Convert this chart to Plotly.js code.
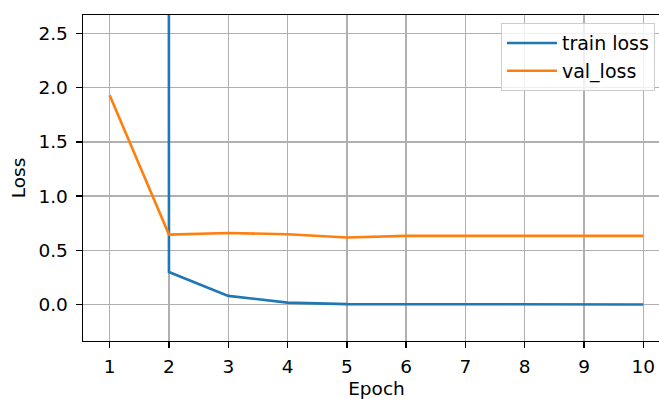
<!DOCTYPE html>
<html>
<head>
<meta charset="utf-8">
<script src="https://cdn.plot.ly/plotly-3.0.1.min.js"></script>
<style>
html,body{margin:0;padding:0;overflow:hidden;background:#fff;width:659px;height:399px;}
#chart{width:680px;height:399px;}
</style>
</head>
<body>
<div id="chart"></div>
<script>
const epochs = [1, 2, 3, 4, 5, 6, 7, 8, 9, 10];
const trainLoss = [1500.0, 0.30, 0.08, 0.018, 0.004, 0.002, 0.001, 0.001, 0.001, 0.001];
const valLoss = [1.93, 0.645, 0.66, 0.648, 0.618, 0.633, 0.633, 0.633, 0.633, 0.633];
const yTicks = [0.0, 0.5, 1.0, 1.5, 2.0, 2.5];
const yTickText = ["0.0", "0.5", "1.0", "1.5", "2.0", "2.5"];

const font = {family: "DejaVu Sans", size: 18.5, color: "#000"};
const legendFont = {family: "DejaVu Sans", size: 19, color: "#000"};

const data = [
  {x: epochs, y: trainLoss, mode: "lines", name: "train loss", legendgroup: "a",
   line: {color: "#1f77b4", width: 2.6}},
  {x: epochs, y: valLoss, mode: "lines", name: "val_loss", legendgroup: "b",
   line: {color: "#ff7f0e", width: 2.6}}
];

const axisCommon = {
  showgrid: true, gridcolor: "#b0b0b0", gridwidth: 1.4,
  showline: true, linecolor: "#000", linewidth: 1.4, mirror: true,
  ticks: "outside", ticklen: 6, tickwidth: 1.4, tickcolor: "#000",
  zeroline: false, tickfont: font
};

const layout = {
  width: 680, height: 399,
  margin: {l: 83, r: 10, t: 15, b: 58},
  paper_bgcolor: "#fff", plot_bgcolor: "#fff",
  font: font,
  showlegend: true,
  xaxis: Object.assign({}, axisCommon, {
    range: [0.55, 10.45], tickvals: epochs, ticktext: epochs.map(String),
    ticklabelstandoff: 2,
    title: {text: "Epoch", font: font, standoff: 15}
  }),
  yaxis: Object.assign({}, axisCommon, {
    range: [-0.336, 2.67], tickvals: yTicks, ticktext: yTickText,
    ticklabelstandoff: 4,
    title: {text: "Loss", font: font, standoff: 8}
  }),
  legend: {
    x: 0.712, y: 0.975, xanchor: "left", yanchor: "top",
    bgcolor: "rgba(255,255,255,0.8)", bordercolor: "#cccccc", borderwidth: 1,
    font: legendFont, traceorder: "grouped", tracegroupgap: 0, itemwidth: 50
  }
};

Plotly.newPlot("chart", data, layout, {displayModeBar: false, staticPlot: true});
</script>
</body>
</html>
